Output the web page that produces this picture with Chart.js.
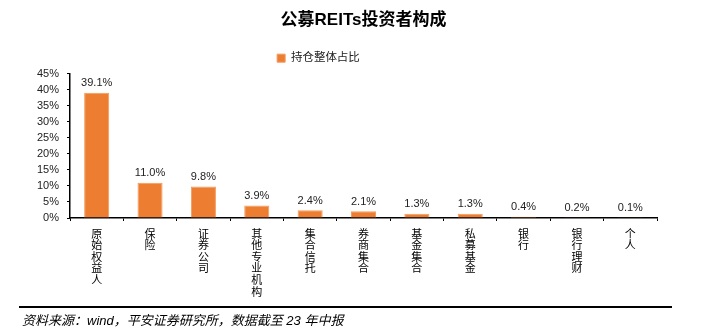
<!DOCTYPE html>
<html>
<head>
<meta charset="utf-8">
<script src="https://cdn.jsdelivr.net/npm/chart.js@4"></script>
<style>
  body { margin: 0; background: #fff; }
  #wrap { position: relative; width: 702px; height: 328px; }
  #footLine { position: absolute; left: 19px; top: 306px; width: 653px; border-top: 2px solid #000; }
  #source { position: absolute; left: 22px; top: 310px; font: italic 13px "Liberation Sans", "Noto Sans CJK SC", sans-serif; color: #000; white-space: nowrap; }
</style>
</head>
<body>
<div id="wrap">
  <canvas id="bar-chart" width="702" height="328"></canvas>
  <div id="footLine"></div>
  <div id="source">资料来源：wind，平安证券研究所，数据截至 23 年中报</div>
</div>
<script>
// categories and values
var investorTypes = ["原始权益人", "保险", "证券公司", "其他专业机构", "集合信托", "券商集合", "基金集合", "私募基金", "银行", "银行理财", "个人"];
var holdingShare = [39.1, 11.0, 9.8, 3.9, 2.4, 2.1, 1.3, 1.3, 0.4, 0.2, 0.1];
var yTicks = [0, 5, 10, 15, 20, 25, 30, 35, 40, 45];

var fontFamily = '"Liberation Sans", "Noto Sans CJK SC", sans-serif';

// labels are written top to bottom, one character per line
var verticalLabels = investorTypes.map(function (name) {
    return name.split("");
});

// draws the value above each bar
var valueLabels = {
    id: "valueLabels",
    afterDatasetsDraw: function (chart) {
        var ctx = chart.ctx;
        var meta = chart.getDatasetMeta(0);
        ctx.save();
        ctx.font = "11px " + fontFamily;
        ctx.fillStyle = "#222";
        ctx.textAlign = "center";
        ctx.textBaseline = "bottom";
        meta.data.forEach(function (bar, i) {
            ctx.fillText(holdingShare[i].toFixed(1) + "%", bar.x, bar.y - 4);
        });
        ctx.restore();
    }
};

// the legend sits a bit left of centre in the original
var legendShift = {
    id: "legendShift",
    afterLayout: function (chart) {
        chart.legend.left -= 10;
        chart.legend.right -= 10;
    }
};

var ctx = document.getElementById("bar-chart").getContext("2d");
var myChart = new Chart(ctx, {
    type: "bar",
    data: {
        labels: verticalLabels,
        datasets: [{
            label: "持仓整体占比",
            data: holdingShare,
            backgroundColor: "#ED7D31",
            borderColor: "#F29A5C",
            borderWidth: 1,
            barPercentage: 0.47,
            categoryPercentage: 1
        }]
    },
    options: {
        responsive: false,
        devicePixelRatio: 1,
        animation: false,
        layout: { padding: { left: 0, right: 45, top: 0, bottom: 28 } },
        plugins: {
            title: {
                display: true,
                fullSize: false,
                text: "公募REITs投资者构成",
                color: "#000",
                font: { family: fontFamily, size: 17, weight: "bold" },
                padding: { top: 10, bottom: 12 }
            },
            legend: {
                display: true,
                labels: {
                    boxWidth: 8,
                    boxHeight: 8,
                    color: "#222",
                    font: { family: fontFamily, size: 11.5 },
                    padding: 10
                }
            },
            tooltip: { enabled: false }
        },
        scales: {
            x: {
                offset: true,
                grid: { display: true, offset: true, drawOnChartArea: false, drawTicks: true, tickLength: 3, color: "#000" },
                border: { display: true, color: "#000", width: 1.5 },
                ticks: {
                    color: "#000",
                    maxRotation: 0,
                    autoSkip: false,
                    padding: 8,
                    font: { family: fontFamily, size: 11, lineHeight: 1.05 }
                },
                afterFit: function (scale) { scale.height = 82; }
            },
            y: {
                min: 0,
                max: 45,
                afterBuildTicks: function (scale) {
                    scale.ticks = yTicks.map(function (v) { return { value: v }; });
                },
                grid: { display: true, drawOnChartArea: false, drawTicks: true, tickLength: 3, color: "#000" },
                border: { display: true, color: "#000", width: 1.5 },
                ticks: {
                    color: "#222",
                    autoSkip: false,
                    padding: 8,
                    font: { family: fontFamily, size: 11 },
                    callback: function (v) { return v + "%"; }
                },
                afterFit: function (scale) { scale.width = 70; }
            }
        }
    },
    plugins: [valueLabels, legendShift]
});
</script>
</body>
</html>
